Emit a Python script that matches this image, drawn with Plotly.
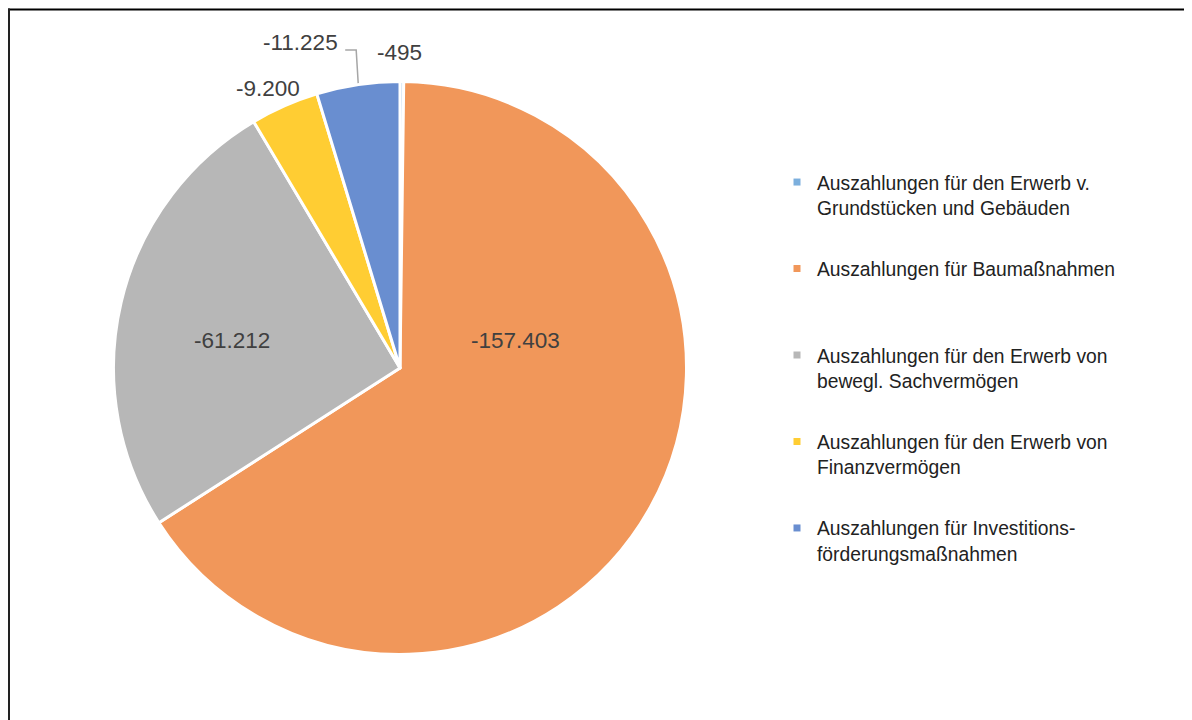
import math
import plotly.graph_objects as go

# ---- data ----
categories = [
    "Auszahlungen für den Erwerb v.<br>Grundstücken und Gebäuden",
    "Auszahlungen für Baumaßnahmen<br> ",
    "Auszahlungen für den Erwerb von<br>bewegl. Sachvermögen",
    "Auszahlungen für den Erwerb von<br>Finanzvermögen",
    "Auszahlungen für Investitions-<br>förderungsmaßnahmen",
]
values = [-495, -157403, -61212, -9200, -11225]
colors = ["#7CAFDD", "#F1975A", "#B7B7B7", "#FFCD33", "#698ED0"]


def fmt(v):
    return f"{v:,}".replace(",", ".")


labels_txt = [fmt(v) for v in values]
abs_values = [abs(v) for v in values]
total = sum(abs_values)

W, H = 1192, 720
FONT = "Liberation Sans, Arial, Helvetica, sans-serif"
LABEL_COLOR = "#404040"
LABEL_SIZE = 22.5

# pie geometry (pixels, figure coordinates)
CX, CY, R_DOM = 392, 360, 286.5
R_VIS = 285


def px(x):
    return x / W


def py(y):
    return 1 - y / H


# mid angle (clockwise from 12 o'clock) of every slice, from the data
mid_angles = []
acc = 0
for v in abs_values:
    mid_angles.append((acc + v / 2) / total * 360)
    acc += v


def rim_point(i, r=R_VIS):
    a = math.radians(mid_angles[i])
    return CX + r * math.sin(a), CY - r * math.cos(a)


fig = go.Figure()

fig.add_trace(go.Pie(
    labels=[c.replace("<br> ", "").replace("<br>", " ") for c in categories],
    values=abs_values,
    textinfo="none",
    sort=False,
    direction="clockwise",
    rotation=0,
    marker=dict(colors=colors, line=dict(color="white", width=3)),
    domain=dict(x=[px(CX - R_DOM), px(CX + R_DOM)],
                y=[py(CY + R_DOM), py(CY - R_DOM)]),
    showlegend=False,
    hovertext=labels_txt,
    hoverinfo="label+text",
))

# legend entries (one per category, same colours as the slices)
for i, (cat, col) in enumerate(zip(categories, colors)):
    fig.add_trace(go.Scatter(
        x=[None], y=[None], mode="markers", name=cat,
        marker=dict(symbol="square", size=7, color=col),
        legendgroup=f"g{i}", showlegend=True, hoverinfo="skip",
    ))

annotations = []
shapes = []
label_font = dict(family=FONT, size=LABEL_SIZE, color=LABEL_COLOR)


def add_label(i, ax, ay, xshift, yshift):
    annotations.append(dict(x=px(ax), y=py(ay), xref="paper", yref="paper",
                            text=labels_txt[i], showarrow=False, font=label_font,
                            xanchor="center", yanchor="middle",
                            xshift=xshift, yshift=yshift))


# label offsets (pixels) relative to slice's rim point / pie centre
rx0, ry0 = rim_point(0)
add_label(0, rx0, ry0, -2, 31)
add_label(1, CX, CY, 115, 28)
add_label(2, CX, CY, -168, 28)
rx3, ry3 = rim_point(3)
add_label(3, rx3, ry3, -17.5, 19)
rx4, ry4 = rim_point(4)
add_label(4, rx4, ry4, -58, 44)

# leader line for the moved label
shapes.append(dict(
    type="path", xref="paper", yref="paper",
    path=(f"M {px(rx4 - 13)},{py(ry4 - 36)} "
          f"L {px(rx4 - 2)},{py(ry4 - 36)} "
          f"L {px(rx4)},{py(ry4 - 3)}"),
    line=dict(color="#A6A6A6", width=1.5),
))

# chart frame (top and left edges visible)
shapes.append(dict(type="line", xref="paper", yref="paper",
                   x0=px(0), x1=1, y0=py(1.5), y1=py(1.5),
                   line=dict(color="black", width=2)))
shapes.append(dict(type="line", xref="paper", yref="paper",
                   x0=px(1), x1=px(1), y0=0, y1=py(0.5),
                   line=dict(color="#222222", width=2)))

fig.update_layout(
    width=W, height=H,
    margin=dict(l=0, r=0, t=0, b=0),
    paper_bgcolor="white",
    plot_bgcolor="white",
    xaxis=dict(visible=False),
    yaxis=dict(visible=False),
    showlegend=True,
    legend=dict(
        x=px(769), y=py(155), xanchor="left", yanchor="top",
        font=dict(family=FONT, size=19.3, color="#222222"),
        valign="top",
        tracegroupgap=33.3,
        bgcolor="rgba(0,0,0,0)",
        itemclick=False, itemdoubleclick=False,
    ),
    annotations=annotations,
    shapes=shapes,
)

fig.write_html(
    "out.html",
    post_script=("document.documentElement.style.overflow='hidden';"
                 "document.body.style.overflow='hidden';"),
)
